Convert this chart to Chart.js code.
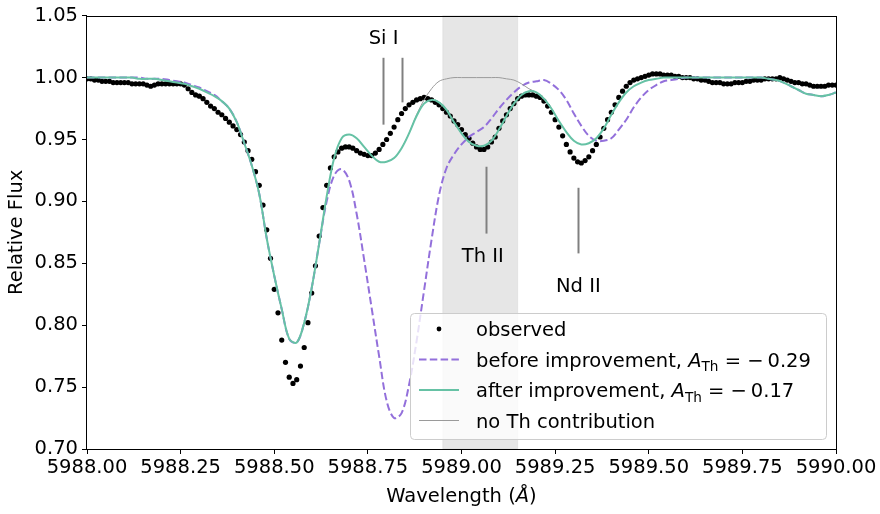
<!DOCTYPE html>
<html>
<head>
<meta charset="utf-8">
<script src="https://cdn.jsdelivr.net/npm/chart.js@4"></script>
<style>
  body { margin: 0; background: #fff; }
  canvas { display: block; }
</style>
</head>
<body>
<canvas id="spectrum" width="880" height="514"></canvas>
<script>
// observed spectrum, sampled every 0.01 A from 5988.00 to 5990.00
const obsStart = 5988.0;
const obsStep = 0.01;
const obsFlux = [
  0.999, 0.999, 0.998, 0.998, 0.997, 0.997, 0.997, 0.996, 0.996, 0.996,
  0.996, 0.996, 0.995, 0.995, 0.995, 0.995, 0.994, 0.993, 0.994, 0.995,
  0.995, 0.995, 0.995, 0.995, 0.995, 0.995, 0.994, 0.991, 0.988, 0.986,
  0.985, 0.983, 0.980, 0.977, 0.975, 0.972, 0.970, 0.967, 0.964, 0.961,
  0.958, 0.954, 0.948, 0.941, 0.934, 0.924, 0.913, 0.897, 0.877, 0.854,
  0.829, 0.810, 0.788, 0.770, 0.758, 0.753, 0.756, 0.767, 0.782, 0.802,
  0.826, 0.848, 0.872, 0.895, 0.913, 0.927, 0.936, 0.940, 0.943, 0.944,
  0.944, 0.943, 0.941, 0.939, 0.938, 0.937, 0.937, 0.939, 0.942, 0.946,
  0.950, 0.955, 0.960, 0.966, 0.971, 0.975, 0.978, 0.980, 0.982, 0.983,
  0.984, 0.983, 0.982, 0.980, 0.978, 0.975, 0.972, 0.969, 0.965, 0.962,
  0.958, 0.954, 0.951, 0.947, 0.944, 0.942, 0.942, 0.944, 0.948, 0.952,
  0.959, 0.965, 0.970, 0.975, 0.979, 0.983, 0.985, 0.986, 0.986, 0.986,
  0.985, 0.984, 0.981, 0.977, 0.972, 0.966, 0.960, 0.953, 0.946, 0.940,
  0.935, 0.932, 0.931, 0.933, 0.936, 0.941, 0.946, 0.952, 0.959, 0.966,
  0.972, 0.978, 0.984, 0.989, 0.993, 0.996, 0.998, 0.999, 1.000, 1.001,
  1.002, 1.003, 1.003, 1.003, 1.002, 1.002, 1.002, 1.001, 1.001, 1.000,
  1.000, 1.000, 0.999, 0.999, 0.998, 0.998, 0.997, 0.996, 0.996, 0.996,
  0.995, 0.995, 0.995, 0.996, 0.996, 0.996, 0.997, 0.997, 0.998, 0.998,
  0.998, 0.999, 0.999, 0.999, 0.999, 1.000, 0.999, 0.998, 0.997, 0.996,
  0.996, 0.995, 0.995, 0.994, 0.993, 0.993, 0.993, 0.993, 0.994, 0.994,
  0.994
];

// synthetic spectra, sampled every 0.02 A
const modelStart = 5988.0;
const modelStep = 0.02;
const beforeFlux = [
  1.000, 1.000, 1.000, 1.000, 1.000, 1.000, 1.000, 1.000, 0.999, 0.999,
  0.999, 0.998, 0.997, 0.996, 0.994, 0.992, 0.989, 0.986, 0.981, 0.975,
  0.964, 0.947, 0.929, 0.906, 0.870, 0.840, 0.813, 0.789, 0.786, 0.802,
  0.830, 0.866, 0.900, 0.921, 0.926, 0.917, 0.890, 0.853, 0.814, 0.775,
  0.739, 0.725, 0.729, 0.752, 0.787, 0.828, 0.869, 0.905, 0.927, 0.938,
  0.946, 0.952, 0.956, 0.960, 0.967, 0.975, 0.982, 0.988, 0.993, 0.996,
  0.997, 0.998, 0.995, 0.990, 0.982, 0.971, 0.961, 0.953, 0.949, 0.949,
  0.951, 0.958, 0.966, 0.976, 0.984, 0.990, 0.994, 0.997, 0.998, 0.999,
  1.000, 1.000, 1.000, 1.000, 1.000, 1.000, 1.000, 1.000, 1.000, 1.000,
  1.000, 0.999, 0.998, 0.996, 0.993, 0.990, 0.987, 0.986, 0.985, 0.986,
  0.988
];
const afterFlux = [
  1.000, 1.000, 1.000, 1.000, 1.000, 1.000, 1.000, 0.999, 0.999, 0.999,
  0.998, 0.997, 0.996, 0.995, 0.993, 0.991, 0.988, 0.985, 0.981, 0.975,
  0.964, 0.947, 0.929, 0.906, 0.870, 0.840, 0.813, 0.789, 0.786, 0.802,
  0.830, 0.866, 0.904, 0.935, 0.951, 0.954, 0.951, 0.944, 0.937, 0.932,
  0.932, 0.935, 0.943, 0.955, 0.969, 0.979, 0.982, 0.980, 0.974, 0.964,
  0.955, 0.948, 0.945, 0.945, 0.949, 0.958, 0.969, 0.979, 0.986, 0.989,
  0.988, 0.983, 0.975, 0.965, 0.956, 0.949, 0.946, 0.947, 0.951, 0.959,
  0.970, 0.980, 0.988, 0.993, 0.996, 0.998, 0.999, 1.000, 1.000, 1.000,
  1.000, 1.000, 1.000, 1.000, 1.000, 1.000, 1.000, 1.000, 1.000, 1.000,
  1.000, 0.999, 0.998, 0.996, 0.993, 0.990, 0.987, 0.986, 0.985, 0.986,
  0.988
];
// no Th contribution, only where it departs from the fit
const noThWave = [5988.84, 5988.86, 5988.88, 5988.90, 5988.92, 5988.94, 5988.96, 5988.98,
  5989.00, 5989.02, 5989.04, 5989.06, 5989.08, 5989.10, 5989.12, 5989.14, 5989.16,
  5989.18, 5989.20, 5989.22, 5989.24];
const noThFlux = [0.943, 0.955, 0.970, 0.982, 0.991, 0.997, 0.999, 1.000,
  1.000, 1.000, 1.000, 1.000, 1.000, 1.000, 0.999, 0.998, 0.995,
  0.991, 0.988, 0.983, 0.975];

const xTicks = [5988.0, 5988.25, 5988.5, 5988.75, 5989.0, 5989.25, 5989.5, 5989.75, 5990.0];
const yTicks = [0.70, 0.75, 0.80, 0.85, 0.90, 0.95, 1.00, 1.05];

// shaded Th II window and line identifications
const thWindow = [5988.95, 5989.15];
const markLines = [
  { w: 5988.79, top: 1.016, bottom: 0.962 },
  { w: 5988.84, top: 1.016, bottom: 0.980 },
  { w: 5989.065, top: 0.928, bottom: 0.874 },
  { w: 5989.312, top: 0.911, bottom: 0.858 }
];
const markLabels = [
  { text: "Si I", w: 5988.792, f: 1.031 },
  { text: "Th II", w: 5989.057, f: 0.855 },
  { text: "Nd II", w: 5989.312, f: 0.831 }
];

const FONT = "DejaVu Sans";
const FS = 19.5;
const PURPLE = "#9370db";
const GREEN = "#66c2a5";
const GREY = "#9a9a9a";

const toPoints = (start, step, ys) => ys.map((y, i) => ({ x: +(start + i * step).toFixed(3), y }));

const shadePlugin = {
  id: "shade",
  beforeDatasetsDraw(chart) {
    const { ctx, chartArea: a, scales: { x } } = chart;
    const x0 = x.getPixelForValue(thWindow[0]);
    const x1 = x.getPixelForValue(thWindow[1]);
    ctx.save();
    ctx.fillStyle = "rgba(128,128,128,0.2)";
    ctx.fillRect(x0, a.top, x1 - x0, a.bottom - a.top);
    ctx.strokeStyle = "rgba(128,128,128,0.12)";
    ctx.lineWidth = 1;
    ctx.strokeRect(x0, a.top, x1 - x0, a.bottom - a.top);
    ctx.restore();
  }
};

function drawRich(ctx, parts, x, y) {
  let cx = x;
  parts.forEach((p) => {
    const size = p.sub ? FS * 0.7 : FS;
    ctx.font = (p.italic ? "italic " : "") + size + "px '" + FONT + "'";
    ctx.fillText(p.t, cx, y + (p.sub ? 4.5 : 0));
    cx += ctx.measureText(p.t).width;
  });
  return cx;
}

const legendItems = [
  { kind: "dot", parts: [{ t: "observed" }] },
  { kind: "dash", color: PURPLE, width: 2, parts: [{ t: "before improvement, " }, { t: "A", italic: true }, { t: "Th", sub: true }, { t: " = \u2212\u20090.29" }] },
  { kind: "line", color: GREEN, width: 2, parts: [{ t: "after improvement, " }, { t: "A", italic: true }, { t: "Th", sub: true }, { t: " = \u2212\u20090.17" }] },
  { kind: "line", color: GREY, width: 1, parts: [{ t: "no Th contribution" }] }
];

const overlayPlugin = {
  id: "overlay",
  afterDatasetsDraw(chart) {
    const { ctx, chartArea: a, scales: { x, y } } = chart;
    ctx.save();
    // identification marks
    ctx.strokeStyle = "#808080";
    ctx.lineWidth = 2;
    markLines.forEach((m) => {
      const px = Math.round(x.getPixelForValue(m.w)) + 0.5;
      ctx.beginPath();
      ctx.moveTo(px, y.getPixelForValue(m.top));
      ctx.lineTo(px, y.getPixelForValue(m.bottom));
      ctx.stroke();
    });
    ctx.fillStyle = "#000";
    ctx.font = FS + "px '" + FONT + "'";
    ctx.textAlign = "center";
    ctx.textBaseline = "middle";
    markLabels.forEach((l) => {
      ctx.fillText(l.text, x.getPixelForValue(l.w), y.getPixelForValue(l.f));
    });

    // frame
    ctx.strokeStyle = "#000";
    ctx.lineWidth = 1;
    ctx.strokeRect(Math.round(a.left) - 0.5, Math.round(a.top) + 0.5,
      Math.round(a.right) - Math.round(a.left) + 1, Math.round(a.bottom) - Math.round(a.top));

    // legend
    const bw = 416, bh = 126;
    const bx = a.right - 10 - bw, by = a.bottom - 10 - bh;
    ctx.beginPath();
    ctx.roundRect(bx + 0.5, by + 0.5, bw, bh, 4);
    ctx.fillStyle = "rgba(255,255,255,0.8)";
    ctx.fill();
    ctx.strokeStyle = "#cccccc";
    ctx.stroke();
    ctx.textAlign = "left";
    ctx.textBaseline = "alphabetic";
    legendItems.forEach((it, i) => {
      const cy = by + 16 + i * 30.5;
      const hx0 = bx + 9, hx1 = bx + 49;
      if (it.kind === "dot") {
        ctx.fillStyle = "#000";
        ctx.beginPath();
        ctx.arc((hx0 + hx1) / 2, cy, 2.4, 0, Math.PI * 2);
        ctx.fill();
      } else {
        ctx.strokeStyle = it.color;
        ctx.lineWidth = it.width;
        ctx.setLineDash(it.kind === "dash" ? [7.5, 3.3] : []);
        ctx.beginPath();
        ctx.moveTo(hx0, cy);
        ctx.lineTo(hx1, cy);
        ctx.stroke();
        ctx.setLineDash([]);
      }
      ctx.fillStyle = "#000";
      drawRich(ctx, it.parts, bx + 66, cy + 7);
    });
    ctx.restore();
  },
  afterDraw(chart) {
    const { ctx, chartArea: a } = chart;
    ctx.save();
    ctx.fillStyle = "#000";
    ctx.textBaseline = "middle";
    // y title
    ctx.font = FS + "px '" + FONT + "'";
    ctx.textAlign = "center";
    ctx.translate(17, (a.top + a.bottom) / 2);
    ctx.rotate(-Math.PI / 2);
    ctx.fillText("Relative Flux", 0, 0);
    ctx.setTransform(1, 0, 0, 1, 0, 0);
    // x title with italic angstrom
    const parts = [{ t: "Wavelength (" }, { t: "\u00c5", italic: true }, { t: ")" }];
    let w = 0;
    parts.forEach((p) => {
      ctx.font = (p.italic ? "italic " : "") + FS + "px '" + FONT + "'";
      w += ctx.measureText(p.t).width;
    });
    ctx.textAlign = "left";
    ctx.textBaseline = "alphabetic";
    drawRich(ctx, parts, (a.left + a.right) / 2 - w / 2, 502);
    ctx.restore();
  }
};

const ctx = document.getElementById("spectrum");
new Chart(ctx, {
  type: "line",
  data: {
    datasets: [
      {
        label: "after improvement",
        data: toPoints(modelStart, modelStep, afterFlux),
        borderColor: GREEN,
        borderWidth: 2,
        pointRadius: 0,
        tension: 0.35,
        order: 1
      },
      {
        label: "no Th contribution",
        data: noThWave.map((w, i) => ({ x: w, y: noThFlux[i] })),
        borderColor: GREY,
        borderWidth: 1,
        pointRadius: 0,
        tension: 0.35,
        order: 2
      },
      {
        label: "before improvement",
        data: toPoints(modelStart, modelStep, beforeFlux),
        borderColor: PURPLE,
        borderWidth: 2,
        borderDash: [7.5, 3.3],
        pointRadius: 0,
        tension: 0.35,
        order: 3
      },
      {
        label: "observed",
        data: toPoints(obsStart, obsStep, obsFlux),
        showLine: false,
        pointRadius: 2.6,
        pointBorderWidth: 0,
        pointBackgroundColor: "#000",
        order: 4
      }
    ]
  },
  options: {
    responsive: false,
    animation: false,
    devicePixelRatio: 1,
    layout: { padding: { left: 0, top: 12, right: 44, bottom: 0 } },
    plugins: { legend: { display: false }, tooltip: { enabled: false } },
    scales: {
      x: {
        type: "linear",
        min: 5988,
        max: 5990,
        afterFit: (s) => { s.height = 65; },
        afterBuildTicks: (s) => { s.ticks = xTicks.map((v) => ({ value: v })); },
        ticks: {
          callback: (v) => v.toFixed(2),
          font: { family: FONT, size: FS },
          color: "#000",
          padding: 2,
          maxRotation: 0,
          autoSkip: false
        },
        grid: { drawOnChartArea: false, drawTicks: true, tickLength: 5, color: "#000", tickWidth: 1 },
        border: { display: false }
      },
      y: {
        min: 0.7,
        max: 1.05,
        afterFit: (s) => { s.width = 87; },
        afterBuildTicks: (s) => { s.ticks = yTicks.map((v) => ({ value: v })); },
        ticks: {
          callback: (v) => v.toFixed(2),
          font: { family: FONT, size: FS },
          color: "#000",
          padding: 4
        },
        grid: { drawOnChartArea: false, drawTicks: true, tickLength: 5, color: "#000", tickWidth: 1 },
        border: { display: false }
      }
    }
  },
  plugins: [shadePlugin, overlayPlugin]
});
</script>
</body>
</html>
